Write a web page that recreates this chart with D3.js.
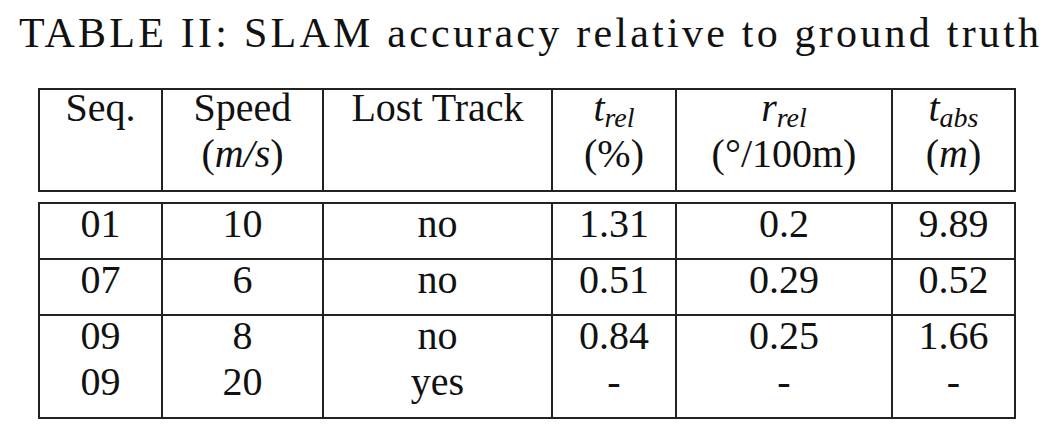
<!DOCTYPE html>
<html><head><meta charset="utf-8">
<script src="https://cdn.jsdelivr.net/npm/d3@7"></script>
<style>body{margin:0;background:#fff}text{font-family:"Liberation Serif","Times New Roman",serif;fill:#111}</style>
</head><body>
<svg id="t" width="1055" height="433"></svg>
<script>
// table content
const title = 'TABLE II: SLAM accuracy relative to ground truth'
const seq = ['01', '07', '09', '09']
const speed = ['10', '6', '8', '20']
const lost = ['no', 'no', 'no', 'yes']
const tRel = ['1.31', '0.51', '0.84', '-']
const rRel = ['0.2', '0.29', '0.25', '-']
const tAbs = ['9.89', '0.52', '1.66', '-']

const colX = [39, 162, 323, 552, 676, 892, 1015]
const svg = d3.select('#t')
const fs = 40

svg.append('text').attr('x', 529).attr('y', 47).attr('text-anchor', 'middle')
    .style('font-size', '42px').attr('textLength', 1020).attr('lengthAdjust', 'spacing').text(title)

const mid = i => (colX[i] + colX[i + 1]) / 2

// header: each line is a list of [text, italic, sub]
const header = [
    [[['Seq.']], []],
    [[['Speed']], [['('], ['m/s', 1], [')']]],
    [[['Lost Track']], []],
    [[['t', 1], ['rel', 1, 1]], [['(%)']]],
    [[['r', 1], ['rel', 1, 1]], [['(°/100m)']]],
    [[['t', 1], ['abs', 1, 1]], [['('], ['m', 1], [')']]]
]
header.forEach((lines, i) => {
    lines.forEach((parts, li) => {
        if (!parts.length) return
        const t = svg.append('text').attr('x', mid(i)).attr('y', li ? 167 : 121)
            .attr('text-anchor', 'middle').style('font-size', fs + 'px')
        parts.forEach(p => {
            const ts = t.append('tspan').text(p[0])
            if (p[1]) ts.style('font-style', 'italic')
            if (p[2]) ts.style('font-size', '28px').attr('dy', 6)
        })
    })
})

const rowY = [237, 293, 349, 395]
const cols = [seq, speed, lost, tRel, rRel, tAbs]
cols.forEach((c, i) => {
    svg.append('g').selectAll('text').data(c).join('text')
        .attr('x', mid(i)).attr('y', (d, j) => rowY[j])
        .attr('text-anchor', 'middle').style('font-size', fs + 'px').text(d => d)
})

// rules
const line = (x1, y1, x2, y2) => svg.append('line').attr('x1', x1).attr('y1', y1)
    .attr('x2', x2).attr('y2', y2).attr('stroke', '#222').attr('stroke-width', 2)
for (const y of [89, 191, 203, 259, 315, 418]) line(colX[0] - 1, y, colX[6] + 1, y)
for (const x of colX) { line(x, 89, x, 191); line(x, 203, x, 418) }
</script>
</body></html>
